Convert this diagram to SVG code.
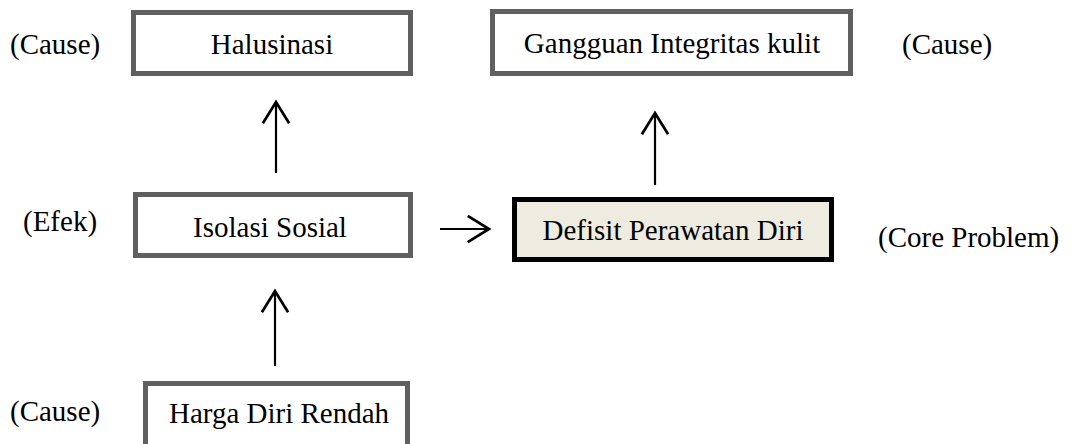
<svg xmlns="http://www.w3.org/2000/svg" width="1072" height="444" viewBox="0 0 1072 444">
  <defs>
    <style>
      .box { fill: #ffffff; stroke: #606060; stroke-width: 5; }
      .core { fill: #eeebe0; stroke: #000000; stroke-width: 5; }
      .t { font-family: 'Liberation Serif', serif; font-size: 29px; fill: #000000; }
      .mid { text-anchor: middle; }
      .link { stroke: #000000; stroke-width: 2.2; fill: none; }
    </style>
    <!-- open chevron head, tip sits on the line end -->
    <marker id="head" markerUnits="userSpaceOnUse" markerWidth="30" markerHeight="30" viewBox="-20 -12 22 24" refX="0" refY="0" orient="auto">
      <path d="M-17,-10.5 L0,0 L-17,10.5" fill="none" stroke="#000000" stroke-width="2.2"/>
    </marker>
  </defs>

  <g font-family="'Liberation Serif', serif">
    <!-- side labels -->
    <g id="labels">
      <text class="t" x="10" y="54">(Cause)</text>
      <text class="t" x="902" y="54">(Cause)</text>
      <text class="t" x="23" y="231">(Efek)</text>
      <text class="t" x="878" y="247">(Core Problem)</text>
      <text class="t" x="10" y="421">(Cause)</text>
    </g>

    <g id="halusinasi">
      <rect class="box" x="133.5" y="12.5" width="277" height="61"/>
      <text class="t mid" x="272" y="54">Halusinasi</text>
    </g>

    <g id="gangguan-integritas-kulit">
      <rect class="box" x="492.5" y="11.5" width="358" height="62"/>
      <text class="t mid" x="672" y="53">Gangguan Integritas kulit</text>
    </g>

    <g id="isolasi-sosial">
      <rect class="box" x="135.5" y="194.5" width="275" height="61"/>
      <text class="t mid" x="270" y="237">Isolasi Sosial</text>
    </g>

    <g id="defisit-perawatan-diri">
      <rect class="core" x="514.5" y="199.5" width="317" height="60"/>
      <text class="t mid" x="673" y="240">Defisit Perawatan Diri</text>
    </g>

    <g id="harga-diri-rendah">
      <rect class="box" x="145.5" y="383.5" width="262" height="66"/>
      <text class="t mid" x="279" y="423">Harga Diri Rendah</text>
    </g>
  </g>

  <!-- connectors -->
  <g id="connectors">
    <line class="link" x1="276" y1="173" x2="276" y2="102" marker-end="url(#head)"/>
    <line class="link" x1="655" y1="185" x2="655" y2="113" marker-end="url(#head)"/>
    <line class="link" x1="275" y1="366" x2="275" y2="291" marker-end="url(#head)"/>
    <line class="link" x1="440" y1="229" x2="489" y2="229" marker-end="url(#head)"/>
  </g>
</svg>
